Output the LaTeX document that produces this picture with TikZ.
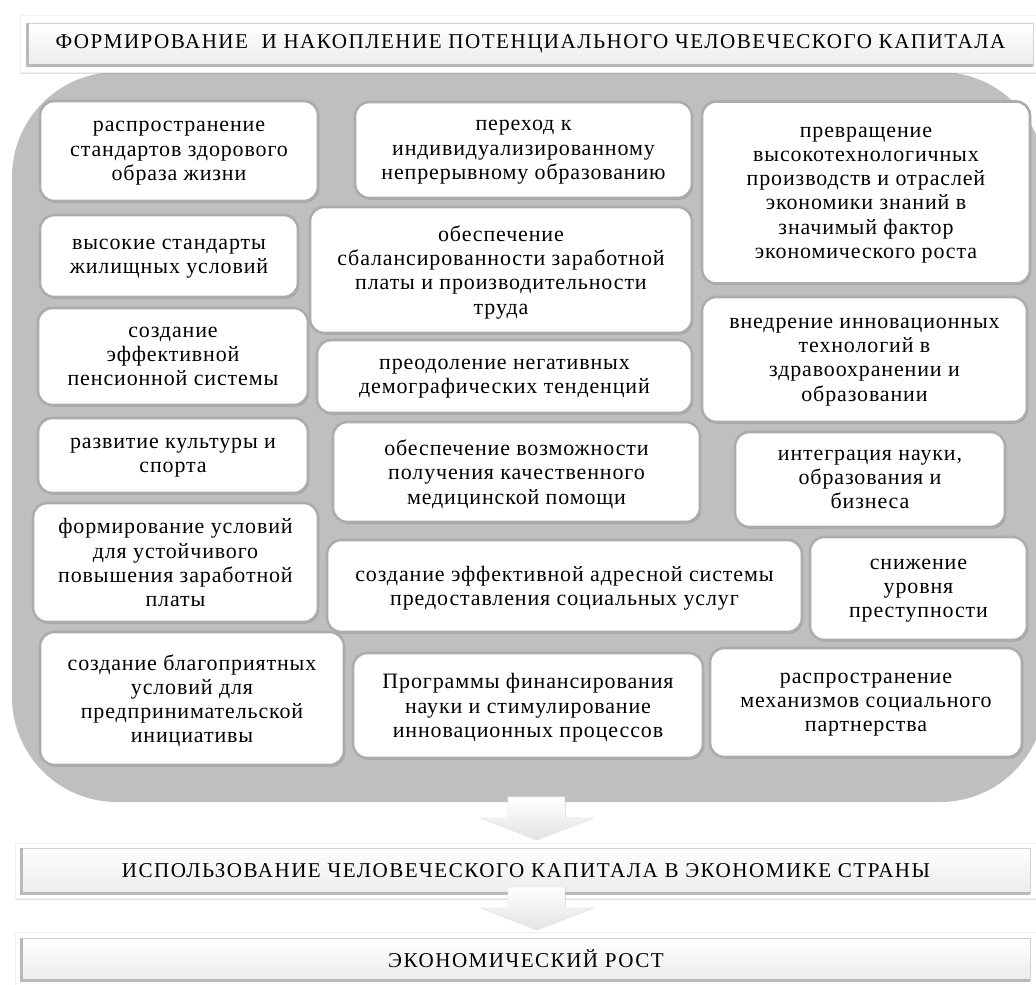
\documentclass[tikz,border=0pt]{standalone}
\usepackage{fontspec}
\setmainfont{Liberation Serif}
\newfontfamily\boxfont{Liberation Serif}[LetterSpace=4]
\newfontfamily\capfont{Liberation Serif}[LetterSpace=7]
\usetikzlibrary{shadows}

\tikzset{
  area/.style={fill=gray!50},
  item/.style={draw=gray!65, line width=1.5pt, fill=white, rounded corners=8pt, align=center, inner sep=1pt,
    font=\boxfont\fontsize{12.5}{13.8}\selectfont, text depth=-8pt,
    drop shadow={shadow xshift=.7pt, shadow yshift=-.9pt, opacity=.55}},
  frame/.style={fill=white, draw=gray!12, drop shadow={shadow xshift=0pt, shadow yshift=-1pt, opacity=.25}},
  banner/.style={top color=white, bottom color=gray!15, draw=gray!35, inner sep=0pt,
    font=\capfont\fontsize{12}{14}\selectfont},
  downarrow/.pic={\filldraw[top color=white, bottom color=gray!22, draw=gray!15]
    (-29,-43) -- (28,-43) -- (28,-22) -- (56,-22) -- (0,0) -- (-56,-22) -- (-29,-22) -- cycle;}
}

\begin{document}
\begin{tikzpicture}[x=0.02cm, y=-0.02cm]
\useasboundingbox (0,0) rectangle (1036,985);
\fill[area, rounded corners=2.1cm] (12,72) rectangle (1045,802);

\filldraw[frame] (20,15) rectangle (1045,72);
\filldraw[frame] (15,843) rectangle (1045,898);
\filldraw[frame] (15,932) rectangle (1045,992);

\node[banner, minimum width=20.1cm, minimum height=0.84cm] (form) at (530.5,44) {ФОРМИРОВАНИЕ\ \ И НАКОПЛЕНИЕ ПОТЕНЦИАЛЬНОГО ЧЕЛОВЕЧЕСКОГО КАПИТАЛА};
\node[banner, minimum width=20.16cm, minimum height=0.9cm] (use) at (526,870.5) {ИСПОЛЬЗОВАНИЕ ЧЕЛОВЕЧЕСКОГО КАПИТАЛА В ЭКОНОМИКЕ СТРАНЫ};
\node[banner, minimum width=20.16cm, minimum height=0.84cm] (rost) at (526,959) {ЭКОНОМИЧЕСКИЙ РОСТ};
\foreach \b in {form,use,rost}
  \draw[gray!55, line width=1.5pt] (\b.north west) -- (\b.south west) -- (\b.south east);

\node[item, minimum width=5.56cm, minimum height=2.0cm] (zdor) at (179,151) {распространение\\стандартов здорового\\образа жизни};
\node[item, minimum width=5.16cm, minimum height=1.64cm] (zhil) at (169,256) {высокие стандарты\\жилищных условий};
\node[item, minimum width=5.4cm, minimum height=1.94cm] (pens) at (173,356.5) {создание\\эффективной\\пенсионной системы};
\node[item, minimum width=5.4cm, minimum height=1.5cm] (kult) at (173,455.5) {развитие культуры и\\спорта};
\node[item, minimum width=5.7cm, minimum height=2.38cm] (zarp) at (175.5,562.5) {формирование условий\\для устойчивого\\повышения заработной\\платы};
\node[item, minimum width=6.08cm, minimum height=2.66cm] (pred) at (192,698.5) {создание благоприятных\\условий для\\предпринимательской\\инициативы};

\node[item, minimum width=6.74cm, minimum height=1.92cm] (obr) at (523.5,150) {переход к\\индивидуализированному\\непрерывному образованию};
\node[item, minimum width=7.64cm, minimum height=2.52cm] (trud) at (501,270) {обеспечение\\сбалансированности заработной\\платы и производительности\\труда};
\node[item, minimum width=7.5cm, minimum height=1.46cm] (demo) at (504.5,376.5) {преодоление негативных\\демографических тенденций};
\node[item, minimum width=7.34cm, minimum height=2.0cm] (med) at (516.5,472) {обеспечение возможности\\получения качественного\\медицинской помощи};
\node[item, minimum width=9.5cm, minimum height=1.84cm] (soc) at (564.5,586) {создание эффективной адресной системы\\предоставления социальных услуг};
\node[item, minimum width=7.0cm, minimum height=2.1cm] (nauk) at (528,705.5) {Программы финансирования\\науки и стимулирование\\инновационных процессов};

\node[item, minimum width=6.56cm, minimum height=3.64cm] (tech) at (866,192.5) {превращение\\высокотехнологичных\\производств и отраслей\\экономики знаний в\\значимый фактор\\экономического роста};
\node[item, minimum width=6.5cm, minimum height=2.5cm] (zdrav) at (864.5,359.5) {внедрение инновационных\\технологий в\\здравоохранении и\\образовании};
\node[item, minimum width=5.4cm, minimum height=1.9cm] (integ) at (870,479.5) {интеграция науки,\\образования и\\бизнеса};
\node[item, minimum width=4.34cm, minimum height=2.06cm] (prest) at (918.5,588.5) {снижение\\уровня\\преступности};
\node[item, minimum width=6.24cm, minimum height=2.18cm] (partn) at (866,702.5) {распространение\\механизмов социального\\партнерства};

\coordinate (tip1) at (537,840);
\coordinate (tip2) at (537,930);
\pic at (tip1) {downarrow};
\pic at (tip2) {downarrow};
\end{tikzpicture}
\end{document}
